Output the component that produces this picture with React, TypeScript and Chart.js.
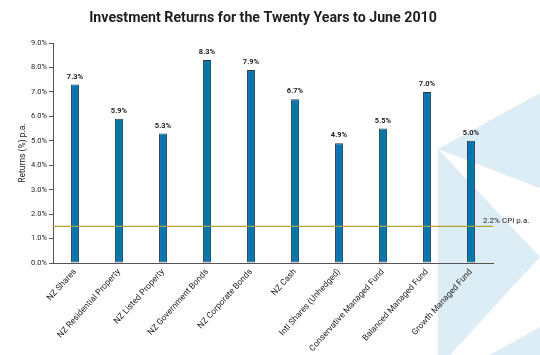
import React, { useEffect, useRef } from "react";
import { Chart, registerables } from "chart.js";

Chart.register(...registerables);

const titleText = "Investment Returns for the Twenty Years to June 2010";
const categories = [
  "NZ Shares",
  "NZ Residential Property",
  "NZ Listed Property",
  "NZ Government Bonds",
  "NZ Corporate Bonds",
  "NZ Cash",
  "Intl Shares (Unhedged)",
  "Conservative Managed Fund",
  "Balanced Managed Fund",
  "Growth Managed Fund",
];
const returnsPct = [7.3, 5.9, 5.3, 8.3, 7.9, 6.7, 4.9, 5.5, 7.0, 5.0];
const cpiLabel = "2.2% CPI p.a.";
const cpiLineValue = 1.5;
const yTitle = "Returns (%) p.a.";
const yMin = 0;
const yMax = 9;
const yStep = 1;

const FONT = "Roboto, 'DejaVu Sans', sans-serif";

// decorative background polygons (fractions of canvas size)
const decoShapes = [
  [[0.811, 0.42], [1, 0.262], [1, 0.53]],
  [[0.811, 0.42], [1, 0.724], [0.833, 1], [0.811, 1]],
  [[0.907, 1], [1, 0.921], [1, 1]],
];

const backgroundPlugin = {
  id: "deco",
  beforeDraw(chart: any) {
    const { ctx, width, height } = chart;
    ctx.save();
    ctx.fillStyle = "#ffffff";
    ctx.fillRect(0, 0, width, height);
    ctx.fillStyle = "#dcedf5";
    decoShapes.forEach((pts) => {
      ctx.beginPath();
      pts.forEach(([fx, fy], i) => {
        const x = fx * width;
        const y = fy * height;
        if (i === 0) ctx.moveTo(x, y);
        else ctx.lineTo(x, y);
      });
      ctx.closePath();
      ctx.fill();
    });
    ctx.restore();
  },
  afterDraw(chart: any) {
    const { ctx, width } = chart;
    ctx.save();
    ctx.fillStyle = "#1e1e1e";
    ctx.font = `bold 14.2px ${FONT}`;
    ctx.textAlign = "center";
    ctx.textBaseline = "middle";
    ctx.fillText(titleText, width / 2 - 7, 18);
    ctx.restore();
  },
};

const cpiPlugin = {
  id: "cpi",
  afterDatasetsDraw(chart: any) {
    const { ctx, chartArea, scales } = chart;
    const y = scales.y.getPixelForValue(cpiLineValue);
    ctx.save();
    ctx.strokeStyle = "#b3a23a";
    ctx.lineWidth = 1.2;
    ctx.beginPath();
    ctx.moveTo(chartArea.left, y);
    ctx.lineTo(chartArea.right, y);
    ctx.stroke();
    ctx.fillStyle = "#222";
    ctx.font = `8px ${FONT}`;
    ctx.textAlign = "left";
    ctx.textBaseline = "bottom";
    ctx.fillText(cpiLabel, chartArea.right - 10, y - 1);
    ctx.restore();
  },
};

const valueLabelPlugin = {
  id: "valueLabels",
  afterDatasetsDraw(chart: any) {
    const { ctx } = chart;
    const meta = chart.getDatasetMeta(0);
    ctx.save();
    ctx.fillStyle = "#222";
    ctx.font = `bold 7.5px ${FONT}`;
    ctx.textAlign = "center";
    ctx.textBaseline = "bottom";
    meta.data.forEach((bar: any, i: number) => {
      ctx.fillText(returnsPct[i].toFixed(1) + "%", bar.x, bar.y - 4);
    });
    ctx.restore();
  },
};

export default function App() {
  const ref = useRef<HTMLCanvasElement>(null);
  useEffect(() => {
    document.body.style.margin = "0";
    const chart = new Chart(ref.current!, {
      type: "bar",
      data: {
        labels: categories,
        datasets: [
          {
            data: returnsPct,
            backgroundColor: "#0077b0",
            borderColor: "#2a3a44",
            borderWidth: 1,
            borderSkipped: false,
            barPercentage: 0.18,
            categoryPercentage: 1,
          },
        ],
      },
      options: {
        responsive: false,
        animation: false,
        layout: { padding: { left: 18, right: 47, top: 43, bottom: 0 } },
        plugins: {
          legend: { display: false },
          tooltip: { enabled: false },
          title: { display: false },
        },
        scales: {
          x: {
            grid: { display: true, drawOnChartArea: false, drawTicks: false },
            border: { display: true, color: "#555", width: 1 },
            ticks: {
              minRotation: 48,
              maxRotation: 48,
              color: "#222",
              font: { family: FONT, size: 8.5 },
              padding: 4,
              autoSkip: false,
            },
            afterFit(scale: any) {
              scale.height = 92;
            },
          },
          y: {
            min: yMin,
            max: yMax,
            grid: { display: true, drawOnChartArea: false, drawTicks: true, tickLength: 4, color: "#555" },
            border: { display: true, color: "#555", width: 1 },
            ticks: {
              stepSize: yStep,
              color: "#222",
              font: { family: FONT, size: 7.5 },
              padding: 2,
              callback: (v: any) => Number(v).toFixed(1) + "%",
            },
            title: {
              display: true,
              text: yTitle,
              color: "#222",
              font: { family: FONT, size: 8.5 },
              padding: 0,
            },
            afterFit(scale: any) {
              scale.width = 35;
            },
          },
        },
      },
      plugins: [backgroundPlugin, cpiPlugin, valueLabelPlugin],
    });
    return () => chart.destroy();
  }, []);
  return <canvas ref={ref} width={540} height={355} style={{ display: "block" }} />;
}
